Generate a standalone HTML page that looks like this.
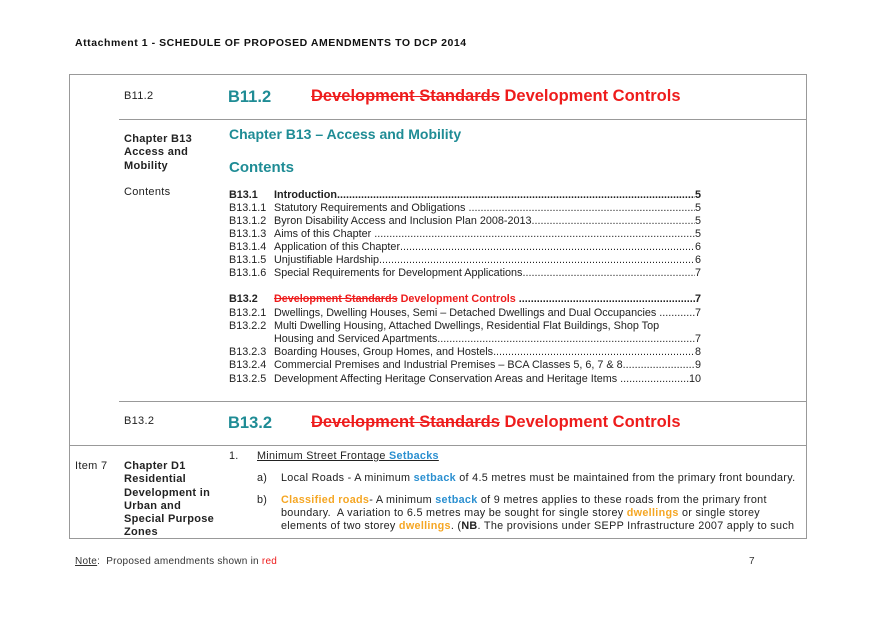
<!DOCTYPE html>
<html><head><meta charset="utf-8"><style>
*{margin:0;padding:0;box-sizing:border-box}
body{width:875px;height:619px;background:#fff;position:relative;font-family:"Liberation Sans",Arial,sans-serif;color:#222;overflow:hidden}
.a{position:absolute;white-space:nowrap}
.hl{position:absolute;height:1px;background:#999}
.teal{color:#1f8c95;font-weight:bold}
.red{color:#ee1c1c}
.s{text-decoration:line-through}
.toc{position:absolute;left:229px;width:472px;display:flex;font-size:10.8px;line-height:13px;white-space:nowrap}
.toc .n{width:45px;flex:none}
.toc .d{flex:1;overflow:hidden}
.toc .d::after{content:"................................................................................................................................................................................................................................"}
.toc .p{flex:none}
.b{font-weight:bold}
.lc{font-size:11px;line-height:13.3px;letter-spacing:0.3px}
.body{font-size:10.8px;letter-spacing:0.3px}
.blue{color:#2a8fd0;font-weight:bold}
.or{color:#f5a623;font-weight:bold}
</style></head><body>
<div class="a" style="left:75px;top:37px;font-size:10.5px;font-weight:bold;color:#111;letter-spacing:0.55px">Attachment 1 - SCHEDULE OF PROPOSED AMENDMENTS TO DCP 2014</div>
<div style="position:absolute;left:69px;top:74px;width:738px;height:465px;border:1px solid #999"></div>
<div class="hl" style="left:119px;top:119px;width:688px"></div>
<div class="hl" style="left:119px;top:401px;width:688px"></div>
<div class="hl" style="left:69px;top:445px;width:738px"></div>

<div class="a lc" style="left:124px;top:90px">B11.2</div>
<div class="a teal" style="left:228px;top:88px;font-size:16.5px">B11.2</div>
<div class="a" style="left:311px;top:87px;font-size:16.5px;font-weight:bold"><span class="red s">Development Standards</span> <span class="red">Development Controls</span></div>

<div class="a lc b" style="left:124px;top:133px">Chapter B13<br>Access and<br>Mobility</div>
<div class="a teal" style="left:229px;top:126px;font-size:14px">Chapter B13 – Access and Mobility</div>
<div class="a teal" style="left:229px;top:159px;font-size:15px">Contents</div>
<div class="a lc" style="left:124px;top:186px">Contents</div>

<div class="toc b" style="top:189px"><span class="n">B13.1</span><span>Introduction</span><span class="d"></span><span class="p">5</span></div>
<div class="toc" style="top:202px"><span class="n">B13.1.1</span><span>Statutory Requirements and Obligations&nbsp;</span><span class="d"></span><span class="p">5</span></div>
<div class="toc" style="top:215px"><span class="n">B13.1.2</span><span>Byron Disability Access and Inclusion Plan 2008-2013</span><span class="d"></span><span class="p">5</span></div>
<div class="toc" style="top:228px"><span class="n">B13.1.3</span><span>Aims of this Chapter&nbsp;</span><span class="d"></span><span class="p">5</span></div>
<div class="toc" style="top:241px"><span class="n">B13.1.4</span><span>Application of this Chapter</span><span class="d"></span><span class="p">6</span></div>
<div class="toc" style="top:254px"><span class="n">B13.1.5</span><span>Unjustifiable Hardship</span><span class="d"></span><span class="p">6</span></div>
<div class="toc" style="top:267px"><span class="n">B13.1.6</span><span>Special Requirements for Development Applications</span><span class="d"></span><span class="p">7</span></div>
<div class="toc b" style="top:293px"><span class="n">B13.2</span><span><span class="red s">Development Standards</span> <span class="red">Development Controls</span>&nbsp;</span><span class="d"></span><span class="p">7</span></div>
<div class="toc" style="top:307px"><span class="n">B13.2.1</span><span>Dwellings, Dwelling Houses, Semi – Detached Dwellings and Dual Occupancies&nbsp;</span><span class="d"></span><span class="p">7</span></div>
<div class="toc" style="top:320px"><span class="n">B13.2.2</span><span>Multi Dwelling Housing, Attached Dwellings, Residential Flat Buildings, Shop Top</span></div>
<div class="toc" style="top:333px"><span class="n"></span><span>Housing and Serviced Apartments</span><span class="d"></span><span class="p">7</span></div>
<div class="toc" style="top:346px"><span class="n">B13.2.3</span><span>Boarding Houses, Group Homes, and Hostels</span><span class="d"></span><span class="p">8</span></div>
<div class="toc" style="top:359px"><span class="n">B13.2.4</span><span>Commercial Premises and Industrial Premises – BCA Classes 5, 6, 7 &amp; 8</span><span class="d"></span><span class="p">9</span></div>
<div class="toc" style="top:373px"><span class="n">B13.2.5</span><span>Development Affecting Heritage Conservation Areas and Heritage Items&nbsp;</span><span class="d"></span><span class="p">10</span></div>

<div class="a lc" style="left:124px;top:415px">B13.2</div>
<div class="a teal" style="left:228px;top:414px;font-size:16.5px">B13.2</div>
<div class="a" style="left:311px;top:413px;font-size:16.5px;font-weight:bold"><span class="red s">Development Standards</span> <span class="red">Development Controls</span></div>

<div class="a lc" style="left:75px;top:460px">Item 7</div>
<div class="a lc b" style="left:124px;top:460px">Chapter D1<br>Residential<br>Development in<br>Urban and<br>Special Purpose<br>Zones</div>
<div class="a body" style="left:229px;top:450px">1.</div>
<div class="a body" style="left:257px;top:450px;text-decoration:underline">Minimum Street Frontage <span class="blue">Setbacks</span></div>
<div class="a body" style="left:257px;top:472px">a)</div>
<div class="a body" style="left:281px;top:472px">Local Roads - A minimum <span class="blue">setback</span> of 4.5 metres must be maintained from the primary front boundary.</div>
<div class="a body" style="left:257px;top:494px">b)</div>
<div class="a body" style="left:281px;top:494px;line-height:13px"><span class="or">Classified roads</span>- A minimum <span class="blue">setback</span> of 9 metres applies to these roads from the primary front<br>boundary.&nbsp; A variation to 6.5 metres may be sought for single storey <span class="or">dwellings</span> or single storey<br>elements of two storey <span class="or">dwellings</span>. (<b>NB</b>. The provisions under SEPP Infrastructure 2007 apply to such</div>

<div class="a" style="left:75px;top:556px;font-size:10px;color:#333;letter-spacing:0.25px"><span style="text-decoration:underline">Note</span>:&nbsp; Proposed amendments shown in <span class="red">red</span></div>
<div class="a" style="left:749px;top:556px;font-size:10px;color:#333">7</div>
</body></html>
